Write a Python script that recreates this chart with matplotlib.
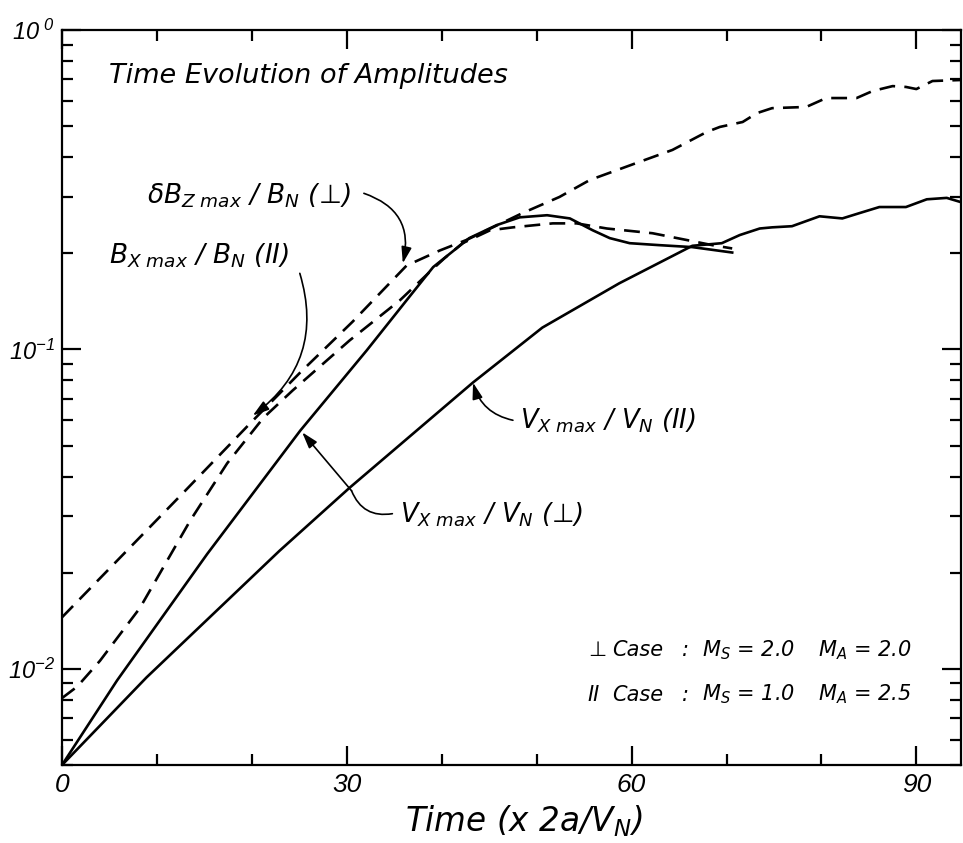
import matplotlib
matplotlib.use('Agg')
import matplotlib.pyplot as plt
from matplotlib.ticker import FixedLocator, LogLocator, NullFormatter

plt.rcParams['font.family'] = ['DejaVu Sans']
plt.rcParams['font.style'] = 'italic'
plt.rcParams['mathtext.fontset'] = 'custom'
plt.rcParams['mathtext.rm'] = 'DejaVu Sans:italic'
plt.rcParams['mathtext.it'] = 'DejaVu Sans:italic'
plt.rcParams['mathtext.sf'] = 'Liberation Sans:italic'
plt.rcParams['mathtext.fallback'] = 'cm'

# --- curves (time in units of 2a/V_N) ---
t_dbz = [0, 5.8, 12.7, 19.8, 25.1, 30.6, 36.3, 39.8, 42.6, 48.5, 52.4, 55.6,
         60.8, 64.3, 67.9, 69.3, 71.7, 73.2, 74.8, 78.4, 80.5, 83.7, 85.4,
         87.5, 88.9, 90.0, 91.7, 94.7]
dbz = [0.0145, 0.0218, 0.0354, 0.0586, 0.0847, 0.122, 0.183, 0.204, 0.220,
       0.267, 0.300, 0.339, 0.386, 0.421, 0.479, 0.497, 0.515, 0.549, 0.569,
       0.574, 0.612, 0.612, 0.644, 0.667, 0.663, 0.653, 0.692, 0.697]

t_bx = [0, 1.6, 4.0, 8.2, 13.5, 17.4, 21.2, 24.3, 26.1, 30.3, 35.6, 39.1,
        40.3, 42.2, 45.1, 47.5, 51.7, 54.2, 57.4, 62.2, 65.8, 68.5, 70.6]
bx = [0.0081, 0.0088, 0.0106, 0.0155, 0.0291, 0.044, 0.061, 0.0744, 0.0829,
      0.1067, 0.1425, 0.179, 0.193, 0.215, 0.236, 0.241, 0.248, 0.248, 0.239,
      0.231, 0.220, 0.212, 0.207]

t_vperp = [0, 5.8, 15.3, 25.1, 32.1, 36.3, 39.1, 42.9, 45.8, 48.2, 51.1,
           53.5, 55.9, 57.7, 59.8, 62.9, 66.4, 70.6]
vperp = [0.0050, 0.0092, 0.0229, 0.0557, 0.0993, 0.1425, 0.181, 0.223,
         0.245, 0.259, 0.263, 0.257, 0.236, 0.223, 0.215, 0.212, 0.209, 0.201]

t_vpar = [0, 8.9, 22.9, 30.3, 43.3, 50.6, 58.7, 66.4, 69.5, 71.4, 73.5, 74.8,
          76.9, 79.8, 82.2, 84.0, 86.1, 88.9, 91.1, 93.2, 94.7]
vpar = [0.0050, 0.0094, 0.0234, 0.0369, 0.0788, 0.117, 0.161, 0.211, 0.215,
        0.228, 0.239, 0.241, 0.243, 0.261, 0.257, 0.267, 0.279, 0.279, 0.295,
        0.298, 0.289]

xticks = [0, 30, 60, 90]
yticks = [1e-2, 1e-1, 1e0]
ytick_labels = [r'$\mathsf{10^{-2}}$', r'$\mathsf{10^{-1}}$', r'$\mathsf{10^{\ 0}}$']

# run parameters, one row per case
case_marks = ['⊥', 'II']
mach_s = ['2.0', '1.0']
mach_a = ['2.0', '2.5']

fig = plt.figure(figsize=(9.63, 8.43), dpi=100)
ax = fig.add_axes([0.0644, 0.0925, 0.9335, 0.872])

dash = (0, (6, 3.5))
ax.plot(t_dbz, dbz, color='black', lw=1.9, linestyle=dash)
ax.plot(t_bx, bx, color='black', lw=1.9, linestyle=dash)
ax.plot(t_vperp, vperp, color='black', lw=1.9)
ax.plot(t_vpar, vpar, color='black', lw=1.9)

ax.set_yscale('log')
ax.set_xlim(0, 94.7)
ax.set_ylim(5e-3, 1.0)

for s in ax.spines.values():
    s.set_linewidth(1.6)

ax.xaxis.set_major_locator(FixedLocator(xticks))
ax.xaxis.set_minor_locator(FixedLocator([10, 20, 40, 50, 70, 80]))
ax.set_xticklabels([str(v) for v in xticks], family='Liberation Sans',
                   style='italic', fontsize=19)
ax.yaxis.set_major_locator(FixedLocator(yticks))
ax.yaxis.set_minor_locator(LogLocator(base=10, subs=range(2, 10)))
ax.yaxis.set_minor_formatter(NullFormatter())
ax.set_yticklabels(ytick_labels, fontsize=17)
ax.tick_params(which='both', direction='in', top=True, right=True, width=1.6)
ax.tick_params(which='major', length=14, pad=6)
ax.tick_params(which='minor', length=8)
ax.tick_params(axis='y', which='major', pad=5)

ax.set_xlabel(r'Time (x 2a/V$_N$)', fontsize=23.5)
ax.xaxis.set_label_coords(0.514, -0.052)

ax.text(5.0, 0.682, 'Time Evolution of Amplitudes', fontsize=19.5, va='baseline')

lbl = dict(fontsize=19, va='baseline', ha='left')
ax.text(8.9, 0.287, r'$\delta B_{Z\ max}\ /\ B_N$ (⊥)', **lbl)
ax.text(5.0, 0.186, r'$B_{X\ max}\ /\ B_N$ (II)', **lbl)
ax.text(48.2, 0.0565, r'$V_{X\ max}\ /\ V_N$ (II)', fontsize=18.5, va='baseline')
ax.text(35.6, 0.0287, r'$V_{X\ max}\ /\ V_N$ (⊥)', fontsize=18.5, va='baseline')

arr = dict(arrowstyle='-|>,head_length=0.7,head_width=0.22', color='black', lw=1.2,
           shrinkA=0, shrinkB=0, mutation_scale=14)
ax.annotate('', xy=(35.9, 0.186), xytext=(31.8, 0.308),
            arrowprops=dict(connectionstyle='arc3,rad=-0.45', **arr))
ax.annotate('', xy=(20.1, 0.0621), xytext=(25.05, 0.173),
            arrowprops=dict(connectionstyle='arc3,rad=-0.35', **arr))
ax.annotate('', xy=(43.3, 0.0787), xytext=(47.5, 0.0600),
            arrowprops=dict(connectionstyle='arc3,rad=-0.3', **arr))
ax.annotate('', xy=(25.3, 0.0550), xytext=(30.5, 0.0361),
            arrowprops=dict(connectionstyle='arc3,rad=0', **arr))
ax.annotate('', xy=(30.5, 0.0361), xytext=(34.8, 0.0306),
            arrowprops=dict(arrowstyle='-', color='black', lw=1.2, shrinkA=0, shrinkB=0,
                            connectionstyle='arc3,rad=-0.4'))

case = dict(fontsize=15, va='baseline', ha='left')
for row, yb in enumerate([0.01095, 0.00795]):
    ax.text(55.4, yb, case_marks[row], **case)
    ax.text(58.0, yb, 'Case', **case)
    ax.text(65.3, yb, ':', **case)
    ax.text(67.4, yb, r'M$_S$ = ' + mach_s[row], **case)
    ax.text(79.6, yb, r'M$_A$ = ' + mach_a[row], **case)

fig.savefig('out.png', dpi=100)
